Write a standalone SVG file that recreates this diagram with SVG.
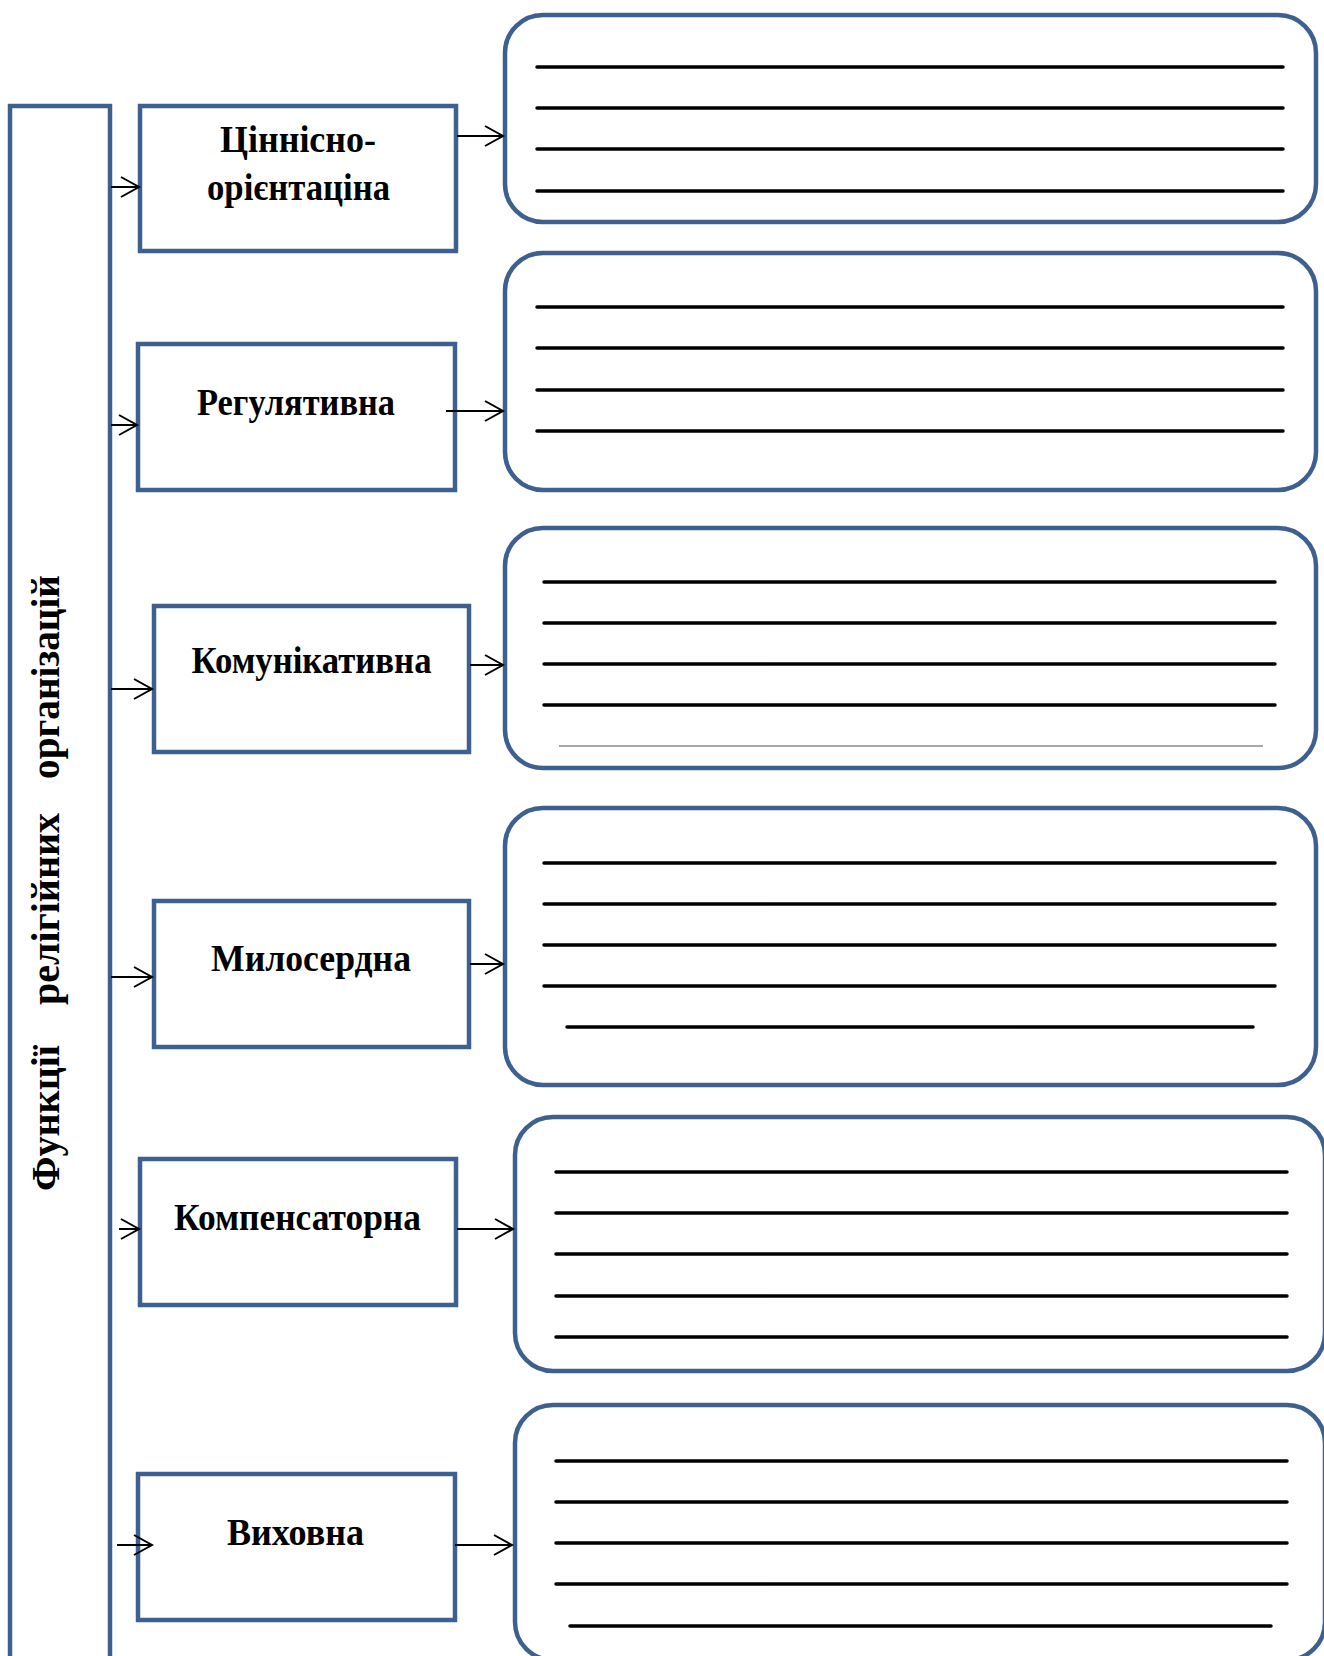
<svg xmlns="http://www.w3.org/2000/svg" width="1324" height="1656" viewBox="0 0 1324 1656">
<style>
.frame{fill:#fff;stroke:#3E6090;stroke-width:4.5}
.lbl{font-family:"Liberation Serif","Times New Roman",serif;font-weight:bold;font-size:38px;fill:#000;text-anchor:middle}
.vlbl{font-family:"Liberation Serif","Times New Roman",serif;font-weight:bold;font-size:41px;fill:#000}
.ln{stroke:#000;stroke-width:3.5;stroke-linecap:round}
.thin{stroke:#555;stroke-width:1.2}
.arr{stroke:#000;stroke-width:2;fill:none;marker-end:url(#ah)}
</style>
<defs>
<marker id="ah" markerUnits="userSpaceOnUse" markerWidth="24" markerHeight="26" refX="20" refY="12" orient="auto" viewBox="0 0 24 26">
<path d="M2,2 L20,12 L2,22" fill="none" stroke="#000" stroke-width="2"/>
</marker>
</defs>
<rect width="1324" height="1656" fill="#fff"/>
<g id="main">
<rect class="frame" x="10" y="106" width="100" height="1570"/>
<text class="vlbl" transform="translate(58.5,0) rotate(-90)"><tspan x="-1191" textLength="146" lengthAdjust="spacingAndGlyphs">Функції</tspan><tspan x="-1005" textLength="192" lengthAdjust="spacingAndGlyphs">релігійних</tspan><tspan x="-779" textLength="204" lengthAdjust="spacingAndGlyphs">організацій</tspan></text>
</g>
<g id="n1">
<rect class="frame" x="140" y="106" width="316" height="145"/>
<text class="lbl" x="298" y="152" textLength="156" lengthAdjust="spacingAndGlyphs">Ціннісно-</text>
<text class="lbl" x="298.5" y="200" textLength="183" lengthAdjust="spacingAndGlyphs">орієнтаціна</text>
</g>
<g id="n2">
<rect class="frame" x="138" y="344" width="317" height="146"/>
<text class="lbl" x="296" y="415" textLength="198" lengthAdjust="spacingAndGlyphs">Регулятивна</text>
</g>
<g id="n3">
<rect class="frame" x="154" y="606" width="315" height="146"/>
<text class="lbl" x="311.5" y="673" textLength="240" lengthAdjust="spacingAndGlyphs">Комунікативна</text>
</g>
<g id="n4">
<rect class="frame" x="154" y="901" width="315" height="146"/>
<text class="lbl" x="311" y="971" textLength="200" lengthAdjust="spacingAndGlyphs">Милосердна</text>
</g>
<g id="n5">
<rect class="frame" x="140" y="1159" width="316" height="146"/>
<text class="lbl" x="297.5" y="1230" textLength="247" lengthAdjust="spacingAndGlyphs">Компенсаторна</text>
</g>
<g id="n6">
<rect class="frame" x="138" y="1474" width="317" height="146"/>
<text class="lbl" x="295.5" y="1545" textLength="137" lengthAdjust="spacingAndGlyphs">Виховна</text>
</g>
<g id="r1">
<rect class="frame" x="505" y="15" width="811" height="207" rx="38"/>
<line class="ln" x1="537" y1="67" x2="1283" y2="67"/>
<line class="ln" x1="537" y1="108" x2="1283" y2="108"/>
<line class="ln" x1="537" y1="149" x2="1283" y2="149"/>
<line class="ln" x1="537" y1="191" x2="1283" y2="191"/>
</g>
<g id="r2">
<rect class="frame" x="505" y="253" width="811" height="237" rx="38"/>
<line class="ln" x1="537" y1="307" x2="1283" y2="307"/>
<line class="ln" x1="537" y1="348" x2="1283" y2="348"/>
<line class="ln" x1="537" y1="390" x2="1283" y2="390"/>
<line class="ln" x1="537" y1="431" x2="1283" y2="431"/>
</g>
<g id="r3">
<rect class="frame" x="505" y="528" width="811" height="240" rx="38"/>
<line class="ln" x1="544" y1="582" x2="1275" y2="582"/>
<line class="ln" x1="544" y1="623" x2="1275" y2="623"/>
<line class="ln" x1="544" y1="664" x2="1275" y2="664"/>
<line class="ln" x1="544" y1="705" x2="1275" y2="705"/>
<line class="thin" x1="559" y1="746" x2="1263" y2="746"/>
</g>
<g id="r4">
<rect class="frame" x="505" y="808" width="811" height="277" rx="38"/>
<line class="ln" x1="544" y1="863" x2="1275" y2="863"/>
<line class="ln" x1="544" y1="904" x2="1275" y2="904"/>
<line class="ln" x1="544" y1="945" x2="1275" y2="945"/>
<line class="ln" x1="544" y1="986" x2="1275" y2="986"/>
<line class="ln" x1="567" y1="1027" x2="1253" y2="1027"/>
</g>
<g id="r5">
<rect class="frame" x="515" y="1117" width="810" height="254" rx="38"/>
<line class="ln" x1="556" y1="1172" x2="1287" y2="1172"/>
<line class="ln" x1="556" y1="1213" x2="1287" y2="1213"/>
<line class="ln" x1="556" y1="1254" x2="1287" y2="1254"/>
<line class="ln" x1="556" y1="1296" x2="1287" y2="1296"/>
<line class="ln" x1="556" y1="1337" x2="1287" y2="1337"/>
</g>
<g id="r6">
<rect class="frame" x="515" y="1405" width="810" height="255" rx="38"/>
<line class="ln" x1="556" y1="1461" x2="1287" y2="1461"/>
<line class="ln" x1="556" y1="1502" x2="1287" y2="1502"/>
<line class="ln" x1="556" y1="1543" x2="1287" y2="1543"/>
<line class="ln" x1="556" y1="1584" x2="1287" y2="1584"/>
<line class="ln" x1="570" y1="1626" x2="1271" y2="1626"/>
</g>
<g id="connectors">
<line class="arr" x1="111" y1="187" x2="139" y2="187"/>
<line class="arr" x1="111" y1="425" x2="137" y2="425"/>
<line class="arr" x1="111" y1="689" x2="152" y2="689"/>
<line class="arr" x1="111" y1="977" x2="152" y2="977"/>
<line class="arr" x1="119" y1="1229" x2="139" y2="1229"/>
<line class="arr" x1="117" y1="1545" x2="152" y2="1545"/>
<line class="arr" x1="457" y1="136" x2="503" y2="136"/>
<line class="arr" x1="446" y1="411" x2="503" y2="411"/>
<line class="arr" x1="470" y1="665" x2="503" y2="665"/>
<line class="arr" x1="470" y1="964" x2="503" y2="964"/>
<line class="arr" x1="457" y1="1229" x2="513" y2="1229"/>
<line class="arr" x1="455" y1="1545" x2="512" y2="1545"/>
</g>
</svg>
